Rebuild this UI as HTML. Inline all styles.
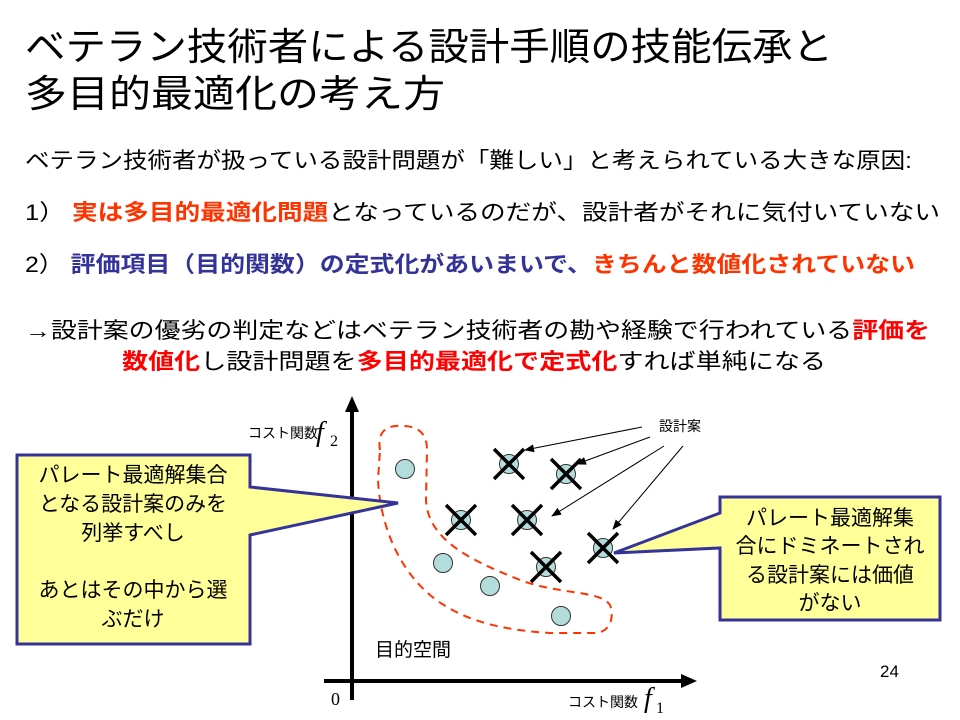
<!DOCTYPE html>
<html><head><meta charset="utf-8"><style>
html,body{margin:0;padding:0;background:#fff;}
svg{display:block;font-family:"Liberation Sans","Noto Sans CJK JP",sans-serif;}
</style></head><body>
<svg width="960" height="720" viewBox="0 0 960 720" xmlns="http://www.w3.org/2000/svg">
<defs>
<marker id="ah" markerWidth="10" markerHeight="8" refX="9" refY="4" orient="auto" markerUnits="userSpaceOnUse"><path d="M0,0 L10,4 L0,8 z" fill="#000"/></marker>
</defs>
<text x="25" y="60" font-size="38" textLength="808" lengthAdjust="spacingAndGlyphs">ベテラン技術者による設計手順の技能伝承と</text>
<text x="25" y="107" font-size="38" textLength="420" lengthAdjust="spacingAndGlyphs">多目的最適化の考え方</text>
<text x="25" y="168" font-size="22" textLength="887" lengthAdjust="spacingAndGlyphs">ベテラン技術者が扱っている設計問題が「難しい」と考えられている大きな原因:</text>
<text x="25" y="220" font-size="22" textLength="915" lengthAdjust="spacingAndGlyphs">1）  <tspan fill="#ff3300" font-weight="bold">実は多目的最適化問題</tspan>となっているのだが、設計者がそれに気付いていない</text>
<text x="25" y="272" font-size="22" textLength="890" lengthAdjust="spacingAndGlyphs">2）  <tspan fill="#333399" font-weight="bold">評価項目（目的関数）の定式化があいまいで、</tspan><tspan fill="#ff3300" font-weight="bold">きちんと数値化されていない</tspan></text>
<text x="25" y="338" font-size="22" textLength="905" lengthAdjust="spacingAndGlyphs">→設計案の優劣の判定などはベテラン技術者の勘や経験で行われている<tspan fill="#ff0000" font-weight="bold">評価を</tspan></text>
<text x="122" y="369" font-size="22" textLength="704" lengthAdjust="spacingAndGlyphs"><tspan fill="#ff0000" font-weight="bold">数値化</tspan>し設計問題を<tspan fill="#ff0000" font-weight="bold">多目的最適化で定式化</tspan>すれば単純になる</text>

<line x1="352" y1="700" x2="352" y2="408" stroke="#000" stroke-width="4"/>
<path d="M352,396 L345,412 L359,412 z" fill="#000"/>
<line x1="324" y1="681" x2="685" y2="681" stroke="#000" stroke-width="4"/>
<path d="M697,681 L681,674 L681,688 z" fill="#000"/>
<text x="248" y="438" font-size="14">コスト関数</text>
<text x="316" y="441" font-size="28" font-style="italic" font-family="Liberation Serif,serif">f</text>
<text x="330" y="446" font-size="16" font-family="Liberation Serif,serif">2</text>
<text x="568" y="707" font-size="14">コスト関数</text>
<text x="644" y="707" font-size="28" font-style="italic" font-family="Liberation Serif,serif">f</text>
<text x="656" y="713" font-size="16" font-family="Liberation Serif,serif">1</text>
<text x="331" y="705" font-size="18" font-family="Liberation Serif,serif">0</text>
<text x="375" y="656" font-size="19">目的空間</text>
<text x="880" y="677" font-size="17">24</text>

<path d="M380,450 C376,425 395,425 405,426 C420,427 427,435 427,450 L426,500 C428,540 470,560 520,580 C560,595 600,590 610,605 C614,615 612,632 595,633 L550,633 C500,630 460,620 430,595 C395,565 380,520 378,480 Z" fill="none" stroke="#ff3300" stroke-width="2" stroke-dasharray="8,6"/>

<g fill="#b3dcdc" stroke="#333" stroke-width="1">
<circle cx="405" cy="469" r="9.5"/><circle cx="443" cy="563" r="9.5"/><circle cx="490" cy="586" r="9.5"/><circle cx="561" cy="616" r="9.5"/>
<circle cx="509" cy="464" r="9.5"/><circle cx="566" cy="474" r="9.5"/><circle cx="461" cy="520" r="9.5"/><circle cx="527" cy="520" r="9.5"/><circle cx="546" cy="567" r="9.5"/><circle cx="603" cy="548" r="9.5"/>
</g>
<g stroke="#000" stroke-width="3.5">
<path d="M494,449 L524,479 M524,449 L494,479"/>
<path d="M551,459 L581,489 M581,459 L551,489"/>
<path d="M446,505 L476,535 M476,505 L446,535"/>
<path d="M512,505 L542,535 M542,505 L512,535"/>
<path d="M531,552 L561,582 M561,552 L531,582"/>
<path d="M588,533 L618,563 M618,533 L588,563"/>
</g>
<text x="659" y="431" font-size="14">設計案</text>
<g stroke="#000" stroke-width="1" marker-end="url(#ah)">
<line x1="642" y1="427" x2="525" y2="450"/>
<line x1="650" y1="437" x2="577" y2="464"/>
<line x1="664" y1="446" x2="552" y2="516"/>
<line x1="683" y1="446" x2="613" y2="529"/>
</g>

<path d="M17,455 L250,455 L250,487 L398,503 L250,535 L250,644 L17,644 Z" fill="#ffff99" stroke="#333399" stroke-width="3"/>
<g font-size="21" text-anchor="middle">
<text x="133" y="482">パレート最適解集合</text>
<text x="133" y="511">となる設計案のみを</text>
<text x="133" y="540">列挙すべし</text>
<text x="133" y="597">あとはその中から選</text>
<text x="133" y="626">ぶだけ</text>
</g>
<path d="M720,497 L940,497 L940,620 L720,620 L720,548 L614,553 L720,513 Z" fill="#ffff99" stroke="#333399" stroke-width="3"/>
<g font-size="21" text-anchor="middle">
<text x="830" y="525">パレート最適解集</text>
<text x="830" y="553">合にドミネートされ</text>
<text x="830" y="582">る設計案には価値</text>
<text x="830" y="610">がない</text>
</g>
</svg>
</body></html>
